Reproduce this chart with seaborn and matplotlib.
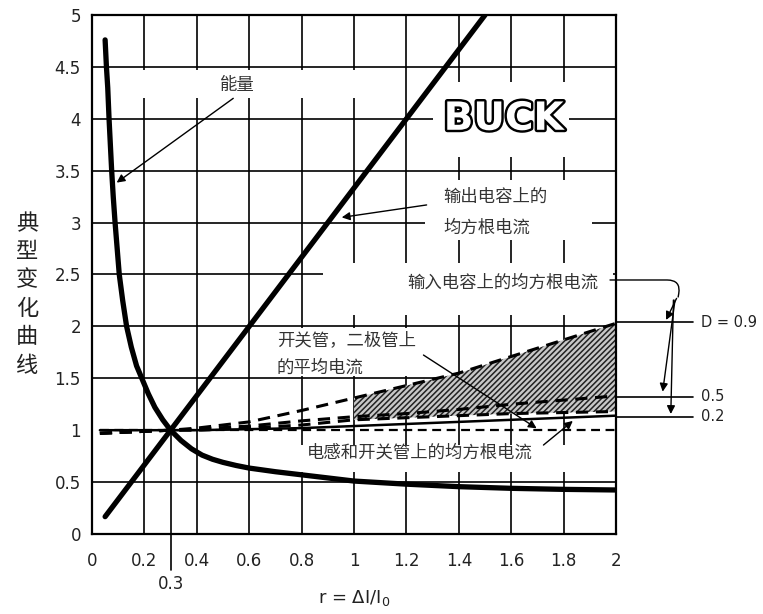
import numpy as np
import pandas as pd
import matplotlib
matplotlib.use('Agg')
import matplotlib.pyplot as plt
import matplotlib.patheffects as pe
from matplotlib.patches import Rectangle
import seaborn as sns

# ---- data ----
# energy curve
r_energy = [0.05, 0.055, 0.06, 0.065, 0.07, 0.075, 0.081, 0.088, 0.096, 0.104, 0.117,
            0.132, 0.15, 0.17, 0.19, 0.215, 0.24, 0.27, 0.3, 0.34, 0.38, 0.42, 0.46,
            0.5, 0.55, 0.6, 0.7, 0.8, 0.9, 1.0, 1.2, 1.4, 1.6, 1.8, 2.0]
energy = [4.76, 4.5, 4.3, 4.0, 3.75, 3.5, 3.25, 3.0, 2.75, 2.5, 2.25,
          2.0, 1.8, 1.62, 1.5, 1.35, 1.22, 1.1, 1.0, 0.9, 0.82, 0.76, 0.72,
          0.69, 0.66, 0.635, 0.60, 0.57, 0.54, 0.51, 0.48, 0.456, 0.44, 0.43, 0.424]

# output capacitor rms current (straight line)
r_cout = [0.05, 1.5]
cout_rms = [0.167, 5.0]

# input capacitor rms current for D = 0.9 / 0.5 / 0.2, inductor rms, average current
r_low = [0.03, 0.3, 0.4, 0.6, 0.8, 1.0, 1.2, 1.4, 1.6, 1.8, 2.0]
cin_d09 = [0.97, 1.0, 1.02, 1.08, 1.19, 1.31, 1.43, 1.55, 1.71, 1.87, 2.03]
cin_d05 = [0.97, 1.0, 1.01, 1.04, 1.09, 1.13, 1.16, 1.20, 1.25, 1.29, 1.33]
cin_d02 = [0.97, 1.0, 1.0, 1.02, 1.05, 1.10, 1.12, 1.14, 1.16, 1.17, 1.18]
ind_rms = [1.0, 1.0, 1.0, 1.01, 1.02, 1.04, 1.06, 1.08, 1.10, 1.12, 1.14]
avg_cur = [1.0] * len(r_low)

x_ticks = [0, 0.2, 0.4, 0.6, 0.8, 1.0, 1.2, 1.4, 1.6, 1.8, 2.0]
x_tick_labels = ['0', '0.2', '0.4', '0.6', '0.8', '1', '1.2', '1.4', '1.6', '1.8', '2']
y_ticks = [0, 0.5, 1, 1.5, 2, 2.5, 3, 3.5, 4, 4.5, 5]
y_tick_labels = ['0', '0.5', '1', '1.5', '2', '2.5', '3', '3.5', '4', '4.5', '5']

d_labels = ['D = 0.9', '0.5', '0.2']
d_label_y = [2.04, 1.32, 1.13]

CJK = ['Noto Sans CJK SC', 'DejaVu Sans']

sns.set_style('white')
plt.rcParams['font.family'] = ['DejaVu Sans', 'Noto Sans CJK SC']
plt.rcParams['hatch.linewidth'] = 1.1
plt.rcParams['hatch.color'] = '#222222'

fig = plt.figure(figsize=(7.63, 6.14), dpi=100)
ax = fig.add_axes([0.1206, 0.1303, 0.6868, 0.8453])

ax.set_xlim(0, 2)
ax.set_ylim(0, 5)
ax.set_xticks(x_ticks)
ax.set_xticklabels(x_tick_labels)
ax.set_yticks(y_ticks)
ax.set_yticklabels(y_tick_labels)
ax.tick_params(axis='both', length=0, labelsize=12, colors='#222222')
ax.tick_params(axis='x', pad=13)
ax.tick_params(axis='y', pad=8)
for sp in ax.spines.values():
    sp.set_color('black')
    sp.set_linewidth(1.6)

ax.set_axisbelow(True)
ax.grid(True, color='black', linewidth=1.2)
# the y = 1 grid line is replaced by the dashed average-current line
ax.yaxis.get_gridlines()[2].set_visible(False)

# white patches that break the grid around the labels
for (x0, x1, y0, y1) in [(0.1, 1.1, 4.2, 4.47), (1.3, 1.82, 3.63, 4.35),
                         (1.27, 1.91, 2.83, 3.41), (0.88, 1.99, 2.11, 2.61),
                         (0.7, 1.3, 1.52, 1.98), (0.75, 1.85, 0.6, 0.86)]:
    ax.add_patch(Rectangle((x0, y0), x1 - x0, y1 - y0, facecolor='white',
                           edgecolor='none', zorder=1))

# hatched band between D=0.9 and D=0.2 for r >= 1
r_arr = np.array(r_low)
ax.fill_between(r_low, cin_d02, cin_d09, where=r_arr >= 1.0, facecolor='#c8c8c8',
                edgecolor='#222222', hatch='//////', linewidth=0, zorder=2)

dash = (4, 2.5)
sns.lineplot(x=r_low, y=avg_cur, ax=ax, color='black', lw=1.6, zorder=3).lines[-1].set_dashes(dash)
sns.lineplot(x=r_low, y=ind_rms, ax=ax, color='black', lw=1.8, zorder=3)
for vals in (cin_d02, cin_d05, cin_d09):
    ln = sns.lineplot(x=r_low, y=vals, ax=ax, color='black', lw=2.2, zorder=3).lines[-1]
    ln.set_dashes(dash)

sns.lineplot(x=r_energy, y=energy, ax=ax, color='black', lw=3.8, zorder=4)
sns.lineplot(x=r_cout, y=cout_rms, ax=ax, color='black', lw=3.8, zorder=4)
ax.set_xlabel('')
ax.set_ylabel('')

# r = 0.3 marker line and label
ax.plot([0.3, 0.3], [1.0, -0.35], color='black', lw=1.2, clip_on=False, zorder=3)
ax.text(0.3, -0.48, '0.3', ha='center', va='center', fontsize=12, color='#222222')

# axis titles
ax.text(1.0, -0.62, r'r = $\Delta$I/I$_0$', ha='center', va='center', fontsize=13,
        color='#222222')
ax.text(-0.248, 2.31, '\n'.join('典型变化曲线'), ha='center', va='center', fontsize=16,
        family=CJK, linespacing=1.3, color='#222222')

# BUCK outlined title
ax.text(1.571, 4.0, 'BUCK', ha='center', va='center', fontsize=28, fontweight='bold',
        color='white', zorder=5,
        path_effects=[pe.withStroke(linewidth=3.5, foreground='black')])

txt_kw = dict(fontsize=12.5, family=CJK, color='#333333', zorder=5)
arr = dict(arrowstyle='-|>', color='black', lw=1.0, mutation_scale=12, shrinkA=0, shrinkB=0)

ax.text(0.553, 4.33, '能量', ha='center', va='center', **txt_kw)
ax.annotate('', xy=(0.094, 3.385), xytext=(0.539, 4.197), arrowprops=arr, zorder=5)

ax.text(1.34, 3.25, '输出电容上的', ha='left', va='center', **txt_kw)
ax.text(1.34, 2.95, '均方根电流', ha='left', va='center', **txt_kw)
ax.annotate('', xy=(0.953, 3.05), xytext=(1.277, 3.17), arrowprops=arr, zorder=5)

ax.text(1.202, 2.42, '输入电容上的均方根电流', ha='left', va='center', **txt_kw)

ax.text(0.706, 1.87, '开关管，二极管上', ha='left', va='center', **txt_kw)
ax.text(0.706, 1.60, '的平均电流', ha='left', va='center', **txt_kw)
ax.annotate('', xy=(1.697, 1.018), xytext=(1.265, 1.724), arrowprops=arr, zorder=5)

ax.text(0.82, 0.79, '电感和开关管上的均方根电流', ha='left', va='center', **txt_kw)
ax.annotate('', xy=(1.835, 1.089), xytext=(1.723, 0.857), arrowprops=arr, zorder=5)

# connector from the input-capacitor label to the D labels
ax.annotate('', xy=(2.237, 2.283), xytext=(1.977, 2.447), annotation_clip=False,
            arrowprops=dict(arrowstyle='-', color='black', lw=1.0, shrinkA=0, shrinkB=0,
                            connectionstyle='angle,angleA=0,angleB=80,rad=14'))
for (hx, hy), (tx, ty) in zip([(2.191, 2.062), (2.178, 1.371), (2.209, 1.156)],
                              [(2.231, 2.27), (2.225, 2.254), (2.219, 2.254)]):
    ax.annotate('', xy=(hx, hy), xytext=(tx, ty), annotation_clip=False, arrowprops=arr)

for lab, yv in zip(d_labels, d_label_y):
    ax.plot([2.0, 2.295], [yv, yv], color='black', lw=1.2, clip_on=False)
    ax.text(2.325, yv, lab, ha='left', va='center', fontsize=10.5, color='#222222')

fig.savefig('out.png', dpi=100)
